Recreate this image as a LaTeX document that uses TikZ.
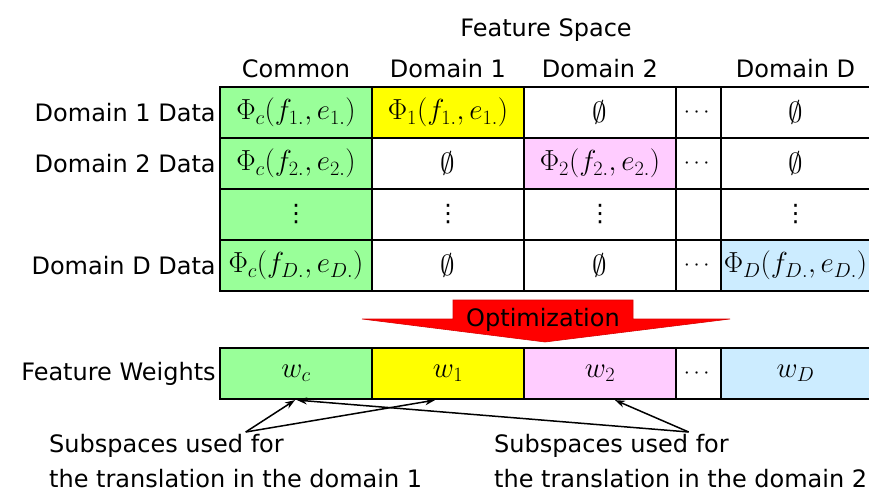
\RequirePackage{fix-cm}
\documentclass[tikz,border=0pt]{standalone}
\usepackage[no-math]{fontspec}
\setmainfont{DejaVu Sans}
\usepackage{amsmath,amssymb}
\usepackage{xcolor}
\usetikzlibrary{arrows.meta, positioning}
\definecolor{commongreen}{RGB}{153,255,153}
\definecolor{domyellow}{RGB}{255,255,0}
\definecolor{dompink}{RGB}{255,204,255}
\definecolor{domblue}{RGB}{204,236,255}
\definecolor{optred}{RGB}{255,0,0}
\newcommand{\vdts}{{\fontsize{24}{24}\selectfont ⋮}}
\newcommand{\hdts}{{\fontsize{22}{22}\selectfont$\cdots$}}

\begin{document}
\begin{tikzpicture}[x=1pt, y=-1pt,
  cell/.style={rectangle, draw, line width=2.2pt, minimum height=51pt,
    inner sep=0pt, font=\fontsize{29}{32}\selectfont},
  wide/.style={cell, minimum width=152pt},
  narrow/.style={cell, minimum width=45pt},
  last/.style={cell, minimum width=149pt},
  lbl/.style={font=\fontsize{24}{35}\selectfont, inner sep=2pt},
  arrow/.style={-{Stealth[length=10pt, width=7pt]}, line width=1.5pt}
]
\useasboundingbox (0,0) rectangle (869,493);
\clip (0,0) rectangle (869,493);

% Headers
\node[lbl] (FS) at (546,30) {Feature Space};
\node[lbl] (HC) at (296,69) {Common};
\node[lbl] (H1) at (448,69) {Domain 1};
\node[lbl] (H2) at (600,69) {Domain 2};
\node[lbl] (HD) at (795.5,69) {Domain D};

% Domain 1 data
\node[wide, fill=commongreen] (C1) at (296,112.5) {$\Phi_c(f_{1.},e_{1.})$};
\node[wide, fill=domyellow] (D11) at (448,112.5) {$\Phi_1(f_{1.},e_{1.})$};
\node[wide] (D21) at (600,112.5) {$\emptyset$};
\node[narrow] (X1) at (698.5,112.5) {\hdts};
\node[last] (DD1) at (795.5,112.5) {$\emptyset$};

% Domain 2 data
\node[wide, fill=commongreen] (C2) at (296,163.5) {$\Phi_c(f_{2.},e_{2.})$};
\node[wide] (D12) at (448,163.5) {$\emptyset$};
\node[wide, fill=dompink] (D22) at (600,163.5) {$\Phi_2(f_{2.},e_{2.})$};
\node[narrow] (X2) at (698.5,163.5) {\hdts};
\node[last] (DD2) at (795.5,163.5) {$\emptyset$};

% Skipped rows
\node[wide, fill=commongreen] (C3) at (296,214.5) {\vdts};
\node[wide] (D13) at (448,214.5) {\vdts};
\node[wide] (D23) at (600,214.5) {\vdts};
\node[narrow] (X3) at (698.5,214.5) {};
\node[last] (DD3) at (795.5,214.5) {\vdts};

% Domain D data
\node[wide, fill=commongreen] (C4) at (296,265.5) {$\Phi_c(f_{D.},e_{D.})$};
\node[wide] (D14) at (448,265.5) {$\emptyset$};
\node[wide] (D24) at (600,265.5) {$\emptyset$};
\node[narrow] (X4) at (698.5,265.5) {\hdts};
\node[last, fill=domblue] (DD4) at (795.5,265.5) {$\Phi_D(f_{D.},e_{D.})$};

% Row labels
\node[lbl, left=1pt of C1] (L1) {Domain 1 Data};
\node[lbl, left=1pt of C2] (L2) {Domain 2 Data};
\node[lbl, left=1pt of C4] (LD) {Domain D Data};

% Optimization arrow
\draw[fill=optred, draw=optred!85!black, line width=0.6pt]
  (453,300) -- (633,300) -- (633,319) -- (730,319) -- (545,342)
  -- (362,319) -- (453,319) -- cycle;
\node[lbl] (OPT) at (543,320) {Optimization};

% Feature weights
\node[wide, fill=commongreen] (Wc) at (296,373.5) {$w_c$};
\node[wide, fill=domyellow] (W1) at (448,373.5) {$w_1$};
\node[wide, fill=dompink] (W2) at (600,373.5) {$w_2$};
\node[narrow] (Wx) at (698.5,373.5) {\hdts};
\node[last, fill=domblue] (WD) at (795.5,373.5) {$w_D$};
\node[lbl, left=1pt of Wc] (LW) {Feature Weights};

% Subspace notes
\node[lbl, align=left, anchor=north west] (U1) at (47,432)
  {Subspaces used for\\the translation in the domain 1};
\node[lbl, align=left, anchor=north west] (U2) at (492,432)
  {Subspaces used for\\the translation in the domain 2};

\draw[arrow] ([xshift=10pt]U1.north) -- ([xshift=-1pt]Wc.south);
\draw[arrow] ([xshift=10pt]U1.north) -- ([xshift=-13pt]W1.south);
\draw[arrow] ([xshift=8pt]U2.north) -- ([xshift=1pt]Wc.south);
\draw[arrow] ([xshift=8pt]U2.north) -- ([xshift=15pt]W2.south);
\end{tikzpicture}
\end{document}
